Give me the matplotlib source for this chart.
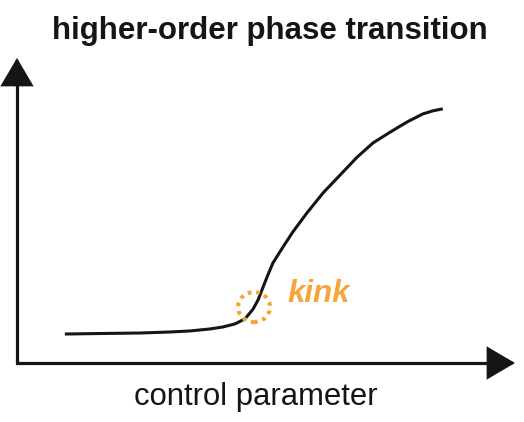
import numpy as np
import matplotlib
matplotlib.use('Agg')
import matplotlib.pyplot as plt
from matplotlib.patches import Ellipse

plt.rcParams['font.family'] = ['Liberation Sans', 'DejaVu Sans']

# curve (control parameter, order parameter)
control = [0.96, 1.67, 2.47, 3.07, 3.47, 3.88, 4.14, 4.38, 4.58, 4.74,
           4.84, 4.92, 5.02, 5.14, 5.34, 5.54, 5.82, 6.15, 6.49, 6.83,
           7.15, 7.49, 7.83, 8.15, 8.35, 8.55]
order = [0.57, 0.58, 0.59, 0.61, 0.63, 0.67, 0.71, 0.77, 0.87, 1.06,
         1.24, 1.44, 1.69, 1.97, 2.28, 2.58, 2.95, 3.35, 3.70, 4.05,
         4.33, 4.54, 4.74, 4.90, 4.96, 5.00]
kink_x, kink_y = 4.76, 1.10

orange = '#F5A53A'
ink = '#151515'

fig = plt.figure(figsize=(5.24, 4.22), dpi=100)
ax = fig.add_axes([17 / 524, 59 / 422, 498 / 524, 305 / 422])
ax.set_xlim(0, 10)
ax.set_ylim(0, 6)
ax.axis('off')

# axes drawn as an L with arrow heads
ax.plot([0, 0, 9.7], [5.6, 0, 0], color=ink, lw=2.3, solid_joinstyle='miter',
        solid_capstyle='butt', clip_on=False)
arrow = dict(arrowstyle='-|>,head_length=17,head_width=10', mutation_scale=1,
             lw=2.3, color=ink, shrinkA=0, shrinkB=0, joinstyle='miter')
ax.annotate('', xy=(1, 0), xytext=(0.965, 0), xycoords='axes fraction',
            arrowprops=arrow, annotation_clip=False)
ax.annotate('', xy=(0, 1), xytext=(0, 0.94), xycoords='axes fraction',
            arrowprops=arrow, annotation_clip=False)

ax.plot(control, order, color=ink, lw=2.2, solid_joinstyle='round', solid_capstyle='butt')

ax.add_patch(Ellipse((kink_x, kink_y), 0.64, 0.59, fill=False, edgecolor=orange,
                     lw=3.0, linestyle=(0, (0.9, 1.15)), zorder=3))
ax.text(5.44, 1.20, 'kink', color=orange, fontsize=22.5, fontweight='bold',
        fontstyle='italic', ha='left', va='baseline')

fig.text(0.515, 1 - 39 / 422, 'higher-order phase transition', ha='center',
         va='baseline', fontsize=22.5, fontweight='bold', color=ink)
fig.text(0.4876, 1 - 405 / 422, 'control parameter', ha='center',
         va='baseline', fontsize=22.3, color=ink)

fig.savefig('out.png', dpi=100)
